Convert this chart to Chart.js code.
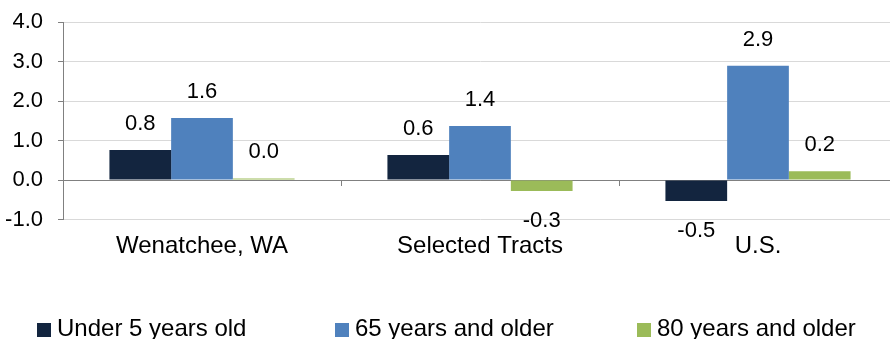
<!DOCTYPE html>
<html>
<head>
<meta charset="utf-8">
<script src="https://cdn.jsdelivr.net/npm/chart.js@4/dist/chart.umd.min.js"></script>
<style>
  html, body { margin: 0; padding: 0; background: #fff; overflow: hidden; }
  #wrap { position: relative; width: 898px; height: 339px; }
  #legend { position: absolute; left: 0; top: 317px; height: 22px; width: 890px;
            font-family: 'Liberation Sans', Arial, sans-serif; font-size: 24px; line-height: 22px; color: #000; }
  .item { position: absolute; top: 0; display: flex; align-items: flex-start; white-space: nowrap; }
  .swatch { width: 14px; height: 14px; margin-top: 6px; margin-right: 6px; }
</style>
</head>
<body>
<div id="wrap">
  <canvas id="chart" width="898" height="339"></canvas>
  <div id="legend"></div>
</div>
<script>
// Population change by age group (percentage points)
const categories = ['Wenatchee, WA', 'Selected Tracts', 'U.S.'];
const seriesNames = ['Under 5 years old', '65 years and older', '80 years and older'];
const under5 = [0.76, 0.63, -0.53];
const over65 = [1.57, 1.37, 2.89];
const over80 = [0.04, -0.28, 0.22];
const yMin = -1;
const yMax = 4;
const yStep = 1;

const colors = ['#13253f', '#4f81bd', '#9bbb59'];
const FONT = "'Liberation Sans', Arial, sans-serif";
const axisGrey = '#808080';

// Value labels above positive bars and below negative ones
const valueLabels = {
  id: 'valueLabels',
  afterDatasetsDraw(chart) {
    const ctx = chart.ctx;
    ctx.save();
    ctx.font = '22px ' + FONT;
    ctx.fillStyle = '#000';
    ctx.textAlign = 'center';
    ctx.textBaseline = 'middle';
    chart.data.datasets.forEach((ds, i) => {
      chart.getDatasetMeta(i).data.forEach((bar, j) => {
        const v = ds.data[j];
        const y = v >= 0 ? bar.y - 26 : bar.y + 30;
        ctx.fillText(v.toFixed(1), bar.x, y);
      });
    });
    ctx.restore();
  }
};

const chart = new Chart(document.getElementById('chart'), {
  type: 'bar',
  data: {
    labels: categories,
    datasets: [
      { label: seriesNames[0], data: under5, backgroundColor: colors[0] },
      { label: seriesNames[1], data: over65, backgroundColor: colors[1] },
      { label: seriesNames[2], data: over80, backgroundColor: colors[2] }
    ]
  },
  options: {
    responsive: false,
    animation: false,
    layout: { padding: { left: 0, right: 1, top: 22, bottom: 66.7 } },
    datasets: { bar: { categoryPercentage: 0.666, barPercentage: 1.0 } },
    plugins: { legend: { display: false }, tooltip: { enabled: false } },
    scales: {
      x: {
        grid: { display: false, drawTicks: false },
        border: { display: false },
        ticks: { color: '#000', font: { family: FONT, size: 24 }, padding: 12, maxRotation: 0 }
      },
      xZero: {
        type: 'category',
        labels: categories,
        position: { y: 0 },
        offset: true,
        grid: { drawOnChartArea: false, drawTicks: true, tickLength: 5, offset: true, color: axisGrey },
        border: { display: true, color: axisGrey, width: 1 },
        ticks: { display: false }
      },
      y: {
        min: yMin,
        max: yMax,
        ticks: {
          stepSize: yStep,
          color: '#000',
          font: { family: FONT, size: 22 },
          padding: 15,
          callback: v => Number(v).toFixed(1)
        },
        grid: {
          color: c => (c.tick && c.tick.value === 0 ? axisGrey : '#d9d9d9'),
          tickColor: axisGrey,
          tickLength: 5,
          lineWidth: 1
        },
        border: { display: true, color: axisGrey },
        afterFit: s => {
          s.width = 63;
          s.paddingTop = 0;
          s.paddingBottom = 0;
        }
      }
    }
  },
  plugins: [valueLabels]
});

// Legend built from the chart's datasets
const legendLefts = [37, 335, 637];
const legend = document.getElementById('legend');
chart.data.datasets.forEach((ds, i) => {
  const item = document.createElement('div');
  item.className = 'item';
  item.style.left = legendLefts[i] + 'px';
  const sw = document.createElement('span');
  sw.className = 'swatch';
  sw.style.background = ds.backgroundColor;
  const tx = document.createElement('span');
  tx.textContent = ds.label;
  item.appendChild(sw);
  item.appendChild(tx);
  legend.appendChild(item);
});
</script>
</body>
</html>
